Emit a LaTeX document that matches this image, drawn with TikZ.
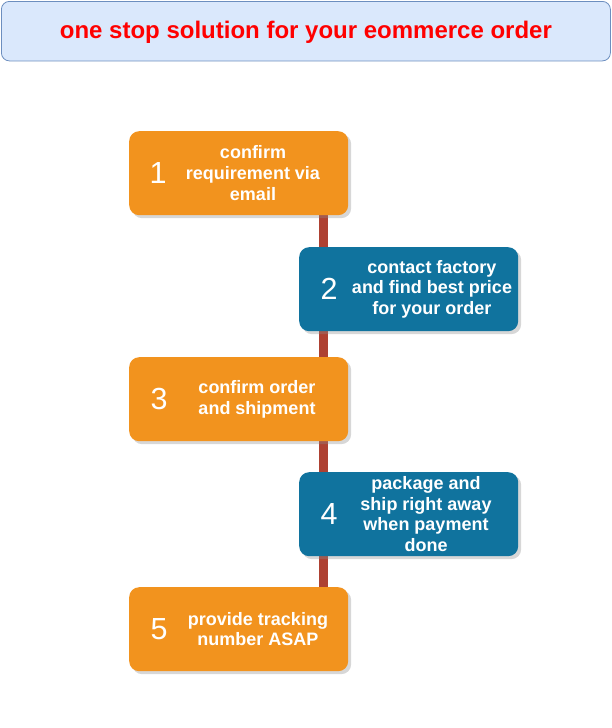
\documentclass[tikz,border=0pt]{standalone}
\usepackage{fontspec}
\setmainfont{Liberation Sans}
\usetikzlibrary{shadows,calc,backgrounds}
\definecolor{stepor}{HTML}{F2931E}
\definecolor{stepbl}{HTML}{10739E}
\definecolor{spinecol}{HTML}{AE4132}
\definecolor{titlefill}{HTML}{DAE8FC}
\definecolor{titledraw}{HTML}{6C8EBF}
\definecolor{titlered}{HTML}{FF0000}
\tikzset{
  stepbox/.style={rectangle, rounded corners=10pt, minimum width=219pt, minimum height=84pt,
    inner sep=0pt, anchor=north west, draw=none,
    drop shadow={shadow xshift=3pt, shadow yshift=-3pt, opacity=0.35, fill=black!45}},
  orbox/.style={stepbox, fill=stepor},
  blbox/.style={stepbox, fill=stepbl},
  numtxt/.style={text=white, font=\fontsize{30.5}{34}\selectfont, inner sep=0pt},
  steptxt/.style={text=white, font=\fontsize{18}{20.7}\selectfont\bfseries, align=center, inner sep=0pt},
  spine/.style={line width=9.5pt, draw=spinecol},
}
\begin{document}
\begin{tikzpicture}[x=1pt,y=-1pt]
\useasboundingbox (0,0) rectangle (612,728);
% title
\node[rectangle, rounded corners=8pt, fill=titlefill, draw=titledraw, line width=0.8pt,
  minimum width=609pt, minimum height=59.5pt, anchor=north west, inner sep=0pt] (title) at (1,1) {};
\node[text=titlered, font=\fontsize{24}{28}\selectfont\bfseries, inner sep=0pt, anchor=base] (titletxt)
  at ($(title.center)+(0,7.5)$) {one stop solution for your eommerce order};
% boxes
\node[orbox] (b1) at (129,131) {};
\node[blbox] (b2) at (299,247) {};
\node[orbox] (b3) at (129,357) {};
\node[blbox] (b4) at (299,472) {};
\node[orbox] (b5) at (129,587) {};
% numbers
\node[numtxt] (n1) at ($(b1.west)+(29,0)$) {1};
\node[numtxt] (n2) at ($(b2.west)+(30,0)$) {2};
\node[numtxt] (n3) at ($(b3.west)+(30,0)$) {3};
\node[numtxt] (n4) at ($(b4.west)+(30,0)$) {4};
\node[numtxt] (n5) at ($(b5.west)+(30,0)$) {5};
% labels
\node[steptxt] (t1) at ($(b1.west)+(124,0)$) {confirm\\requirement via\\email};
\node[steptxt] (t2) at ($(b2.west)+(133,0)$) {contact factory\\and find best price\\for your order};
\node[steptxt] (t3) at ($(b3.west)+(128,0)$) {confirm order\\and shipment};
\node[steptxt] (t4) at ($(b4.west)+(127,0)$) {package and\\ship right away\\when payment\\done};
\node[steptxt] (t5) at ($(b5.west)+(129,0)$) {provide tracking\\number ASAP};
% spine
\begin{scope}[on background layer]
\draw[spine] ($(b1.south east)!0.5!(b1.south east -| b2.west)$) -- ($(b5.north east)!0.5!(b5.north east -| b4.west)$);
\end{scope}
\end{tikzpicture}
\end{document}
